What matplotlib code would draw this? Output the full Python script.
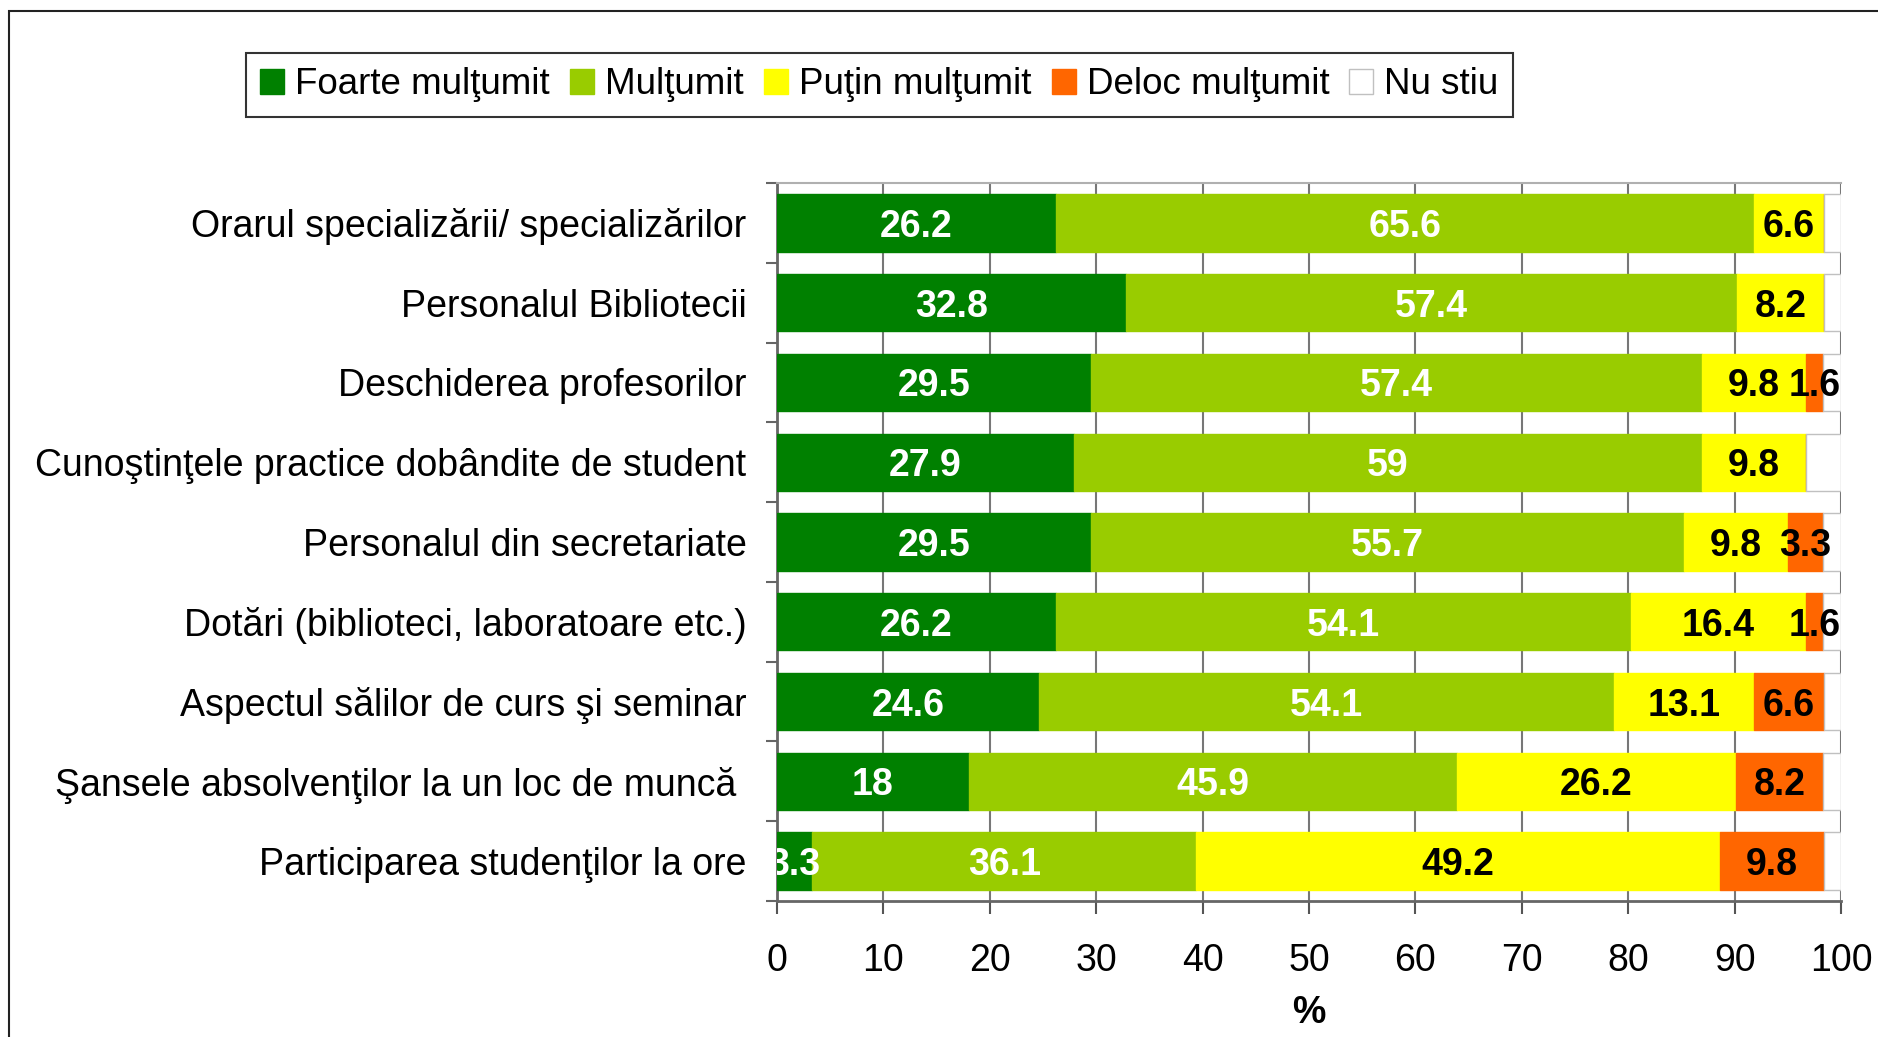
import matplotlib
matplotlib.use('Agg')
import matplotlib.pyplot as plt
from matplotlib.patches import Rectangle
from matplotlib.ticker import FixedLocator
import numpy as np

plt.rcParams['font.family'] = ['Liberation Sans', 'DejaVu Sans']

# categories, top to bottom
categories = ['Orarul specializării/ specializărilor',
              'Personalul Bibliotecii',
              'Deschiderea profesorilor',
              'Cunoştinţele practice dobândite de student',
              'Personalul din secretariate',
              'Dotări (biblioteci, laboratoare etc.)',
              'Aspectul sălilor de curs şi seminar',
              'Şansele absolvenţilor la un loc de muncă ',
              'Participarea studenţilor la ore']

foarte = [26.2, 32.8, 29.5, 27.9, 29.5, 26.2, 24.6, 18, 3.3]
multumit = [65.6, 57.4, 57.4, 59, 55.7, 54.1, 54.1, 45.9, 36.1]
putin = [6.6, 8.2, 9.8, 9.8, 9.8, 16.4, 13.1, 26.2, 49.2]
deloc = [0, 0, 1.6, 0, 3.3, 1.6, 6.6, 8.2, 9.8]
nu_stiu = [1.6, 1.6, 1.7, 3.3, 1.7, 1.7, 1.6, 1.7, 1.6]

series_names = ['Foarte mulţumit', 'Mulţumit', 'Puţin mulţumit', 'Deloc mulţumit', 'Nu stiu']
colors = ['#008000', '#99CC00', '#FFFF00', '#FF6600', '#FFFFFF']
text_colors = ['white', 'white', 'black', 'black', None]

W, H = 1878, 1037
fig = plt.figure(figsize=(W / 100, H / 100), dpi=100)
ax = fig.add_axes([777 / W, 136 / H, (1841 - 777) / W, (901 - 183) / H])

y = np.arange(len(categories))
left = np.zeros(len(categories))
handles = []
for vals, name, c, tc in zip([foarte, multumit, putin, deloc, nu_stiu],
                             series_names, colors, text_colors):
    vals = np.array(vals, dtype=float)
    ec = '#C0C0C0' if c == '#FFFFFF' else c
    bars = ax.barh(y, vals, left=left, height=0.72, color=c,
                   edgecolor=ec, linewidth=1, zorder=3, label=name)
    handles.append(bars)
    if tc is not None:
        for yi, l, v in zip(y, left, vals):
            if v > 0:
                ax.text(l + v / 2, yi, '{:g}'.format(v), ha='center',
                        va='center_baseline',
                        color=tc, fontsize=27, fontweight='bold', zorder=4,
                        clip_on=True)
    left += vals

ax.set_xlim(0, 100)
ax.set_ylim(len(categories) - 0.5, -0.5)
ax.set_xticks(range(0, 101, 10))
ax.set_yticks(y)
ax.set_yticklabels(categories, fontsize=27)
ax.yaxis.set_minor_locator(FixedLocator(np.arange(-0.5, len(categories), 1)))
ax.tick_params(axis='y', which='major', length=0, pad=22)
ax.tick_params(axis='y', which='minor', length=8, width=1.5, color='#666666', direction='out')
ax.tick_params(axis='x', labelsize=27, length=9, width=1.5, color='#555555', pad=21)
ax.xaxis.grid(True, color='#777777', linewidth=1.5, zorder=0)
ax.set_axisbelow(True)

for s in ['left', 'bottom']:
    ax.spines[s].set_color('#666666')
    ax.spines[s].set_linewidth(2)
ax.spines['right'].set_visible(False)
ax.spines['top'].set_color('#B0B0B0')
ax.spines['top'].set_linewidth(1.5)

ax.set_xlabel('%', fontsize=27, fontweight='bold', labelpad=12)

leg = fig.legend(handles=handles, loc='center', ncol=5,
                 bbox_to_anchor=(879.5 / W, 1 - 85 / H), fontsize=26.5,
                 frameon=True, fancybox=False, edgecolor='black',
                 handlelength=0.65, handleheight=0.65, handletextpad=0.3,
                 columnspacing=0.55, borderpad=0.4)
leg.get_frame().set_linewidth(1.5)

# outer frame
fig.add_artist(Rectangle((9 / W, -0.1), 1.2, 1 - 11 / H + 0.1,
                         transform=fig.transFigure, fill=False,
                         edgecolor='#222222', linewidth=1.5))

fig.savefig('out.png', dpi=100)
